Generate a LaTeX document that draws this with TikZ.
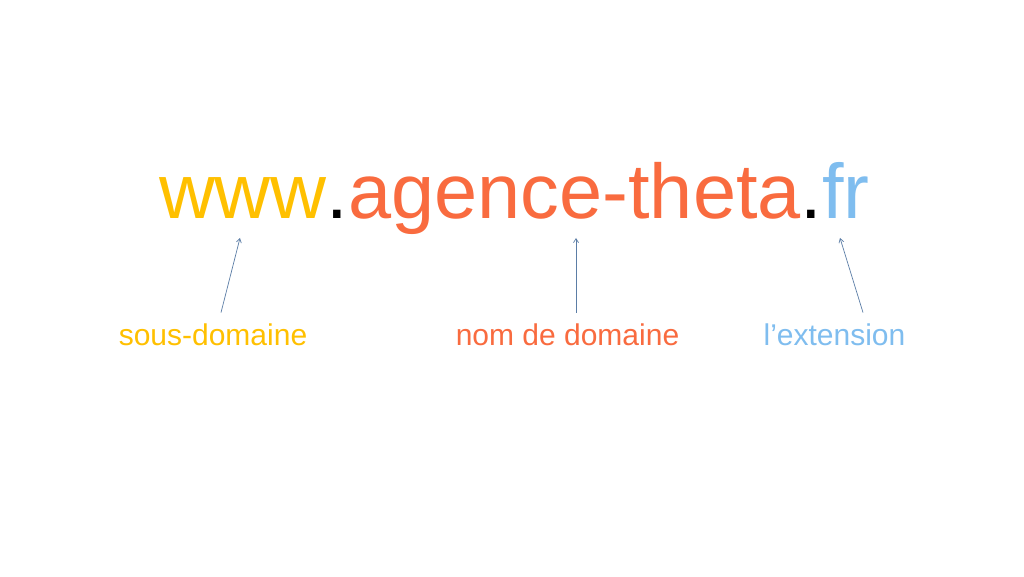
\documentclass[tikz,border=0pt]{standalone}
\usepackage{fontspec}
\setmainfont{Liberation Sans}
\usepackage{xcolor}
\usetikzlibrary{arrows.meta,positioning}

\definecolor{sousjaune}{HTML}{FFC000}
\definecolor{nomorange}{HTML}{F96B3F}
\definecolor{extbleu}{HTML}{7FBDEF}
\definecolor{flecheb}{HTML}{5B7DA6}

\tikzset{
    url/.style={inner sep=0pt, outer sep=0pt, anchor=base west, font=\fontsize{77.5}{90}\selectfont},
    lbl/.style={inner sep=0pt, anchor=base, font=\fontsize{30}{36}\selectfont},
    pointer/.style={flecheb, line width=0.7pt, -{Straight Barb[length=4pt,width=5pt]}}
}

\begin{document}
\begin{tikzpicture}[x=1pt,y=1pt]
        \useasboundingbox[fill=white] (0,0) rectangle (1024,576);
        % l'adresse
        \node[url, sousjaune] (www) at (159,357) {www};
        \node[url] (pointa) at (www.base east) {.};
        \node[url, nomorange] (nom) at (pointa.base east) {agence-theta};
        \node[url] (pointb) at (nom.base east) {.};
        \node[url, extbleu] (ext) at (pointb.base east) {fr};
        % les legendes
        \node[lbl, sousjaune] (sous) at (213,231) {sous-domaine};
        \node[lbl, nomorange] (domaine) at (567.5,231) {nom de domaine};
        \node[lbl, extbleu] (extension) at (834.5,231) {l’extension};
        % les fleches
        \coordinate (psous) at (240,338);
        \coordinate (pnom) at (576,338);
        \coordinate (pext) at (840,338);
        \draw[pointer] ([xshift=8pt,yshift=10.5pt]sous.north) -- (psous);
        \draw[pointer] ([xshift=8.5pt,yshift=10.5pt]domaine.north) -- (pnom);
        \draw[pointer] ([xshift=28.5pt,yshift=10.5pt]extension.north) -- (pext);
    \end{tikzpicture}
\end{document}
